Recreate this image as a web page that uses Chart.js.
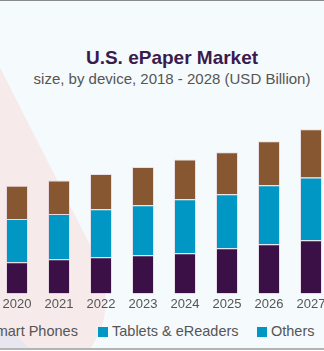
<!DOCTYPE html>
<html>
<head>
<meta charset="utf-8">
<script src="https://cdn.jsdelivr.net/npm/chart.js@4/dist/chart.umd.min.js"></script>
<style>
  html, body { margin: 0; padding: 0; }
  body { width: 324px; height: 351px; overflow: hidden; position: relative; background: #f5fafc; font-family: "Liberation Sans", Arial, sans-serif; }
  .topline { position: absolute; left: 0; top: 0; width: 324px; height: 1px; background: #8a8a8a; }
  .botline { position: absolute; left: 0; top: 348px; width: 324px; height: 2px; background: #b4b4b4; }
  .botwhite { position: absolute; left: 0; top: 350px; width: 324px; height: 1px; background: #fff; }
  #bg { position: absolute; left: 0; top: 0; }
  #title { position: absolute; left: 0; width: 344px; top: 47px; text-align: center; font-weight: bold; font-size: 19px; color: #3b1a4d; }
  #subtitle { position: absolute; left: 0; width: 344px; top: 70px; text-align: center; font-size: 15px; color: #555; }
  #wrap { position: absolute; left: -88px; top: 0; width: 462px; height: 315px; }
  .leg { position: absolute; top: 323px; font-size: 14.5px; color: #555; white-space: nowrap; line-height: 17px; }
  .leg i { display: inline-block; width: 10px; height: 10px; margin-right: 4px; vertical-align: -1px; }
</style>
</head>
<body>
<svg id="bg" width="324" height="351">
  <path d="M -20 28 L 85 235 C 112 285 112 320 88 352 L -20 352 Z" fill="#f6eaea"/>
  <path d="M -5 326 Q 20 334 32 352 L -5 352 Z" fill="#e8e7ef"/>
</svg>
<div class="topline"></div>
<div class="botline"></div>
<div class="botwhite"></div>
<div id="title">U.S. ePaper Market</div>
<div id="subtitle">size, by device, 2018 - 2028 (USD Billion)</div>
<div id="wrap"><canvas id="chart"></canvas></div>
<div id="legend"></div>
<script>
let years = ['2018', '2019', '2020', '2021', '2022', '2023', '2024', '2025', '2026', '2027', '2028'];
let smartPhones = [0.55, 0.59, 0.63, 0.69, 0.73, 0.77, 0.81, 0.91, 0.99, 1.07, 1.16];
let tablets = [0.79, 0.83, 0.87, 0.91, 0.97, 1.01, 1.09, 1.09, 1.19, 1.27, 1.37];
let others = [0.61, 0.64, 0.67, 0.68, 0.71, 0.77, 0.80, 0.85, 0.89, 0.97, 1.05];
let seriesNames = ['Smart Phones', 'Tablets & eReaders', 'Others'];
let barColors = ['#3a1047', '#0097c4', '#875731'];
let legendColors = ['#3a1047', '#0097c4', '#0097c4'];
let legendLeft = [-28, 98, 257];

// legend as plain html
let legendHtml = '';
seriesNames.forEach(function (name, i) {
    legendHtml += '<div class="leg" style="left:' + legendLeft[i] + 'px"><i style="background:' + legendColors[i] + '"></i>' + name + '</div>';
});
document.getElementById('legend').innerHTML = legendHtml;

let allValues = [smartPhones, tablets, others];
let ctx = document.getElementById('chart').getContext('2d');

new Chart(ctx, {
    type: 'bar',
    data: {
        labels: years,
        datasets: seriesNames.map(function (name, i) {
            return {
                label: name,
                data: allValues[i],
                backgroundColor: barColors[i],
                borderColor: 'rgba(220,200,215,0.55)',
                borderWidth: 1,
                barPercentage: 0.524,
                categoryPercentage: 1
            };
        })
    },
    options: {
        responsive: true,
        maintainAspectRatio: false,
        animation: false,
        layout: { padding: 0 },
        plugins: {
            legend: { display: false },
            tooltip: { enabled: false }
        },
        scales: {
            x: {
                stacked: true,
                grid: { display: false, drawTicks: false },
                border: { display: false },
                ticks: {
                    color: '#555',
                    padding: 3,
                    font: { family: 'Liberation Sans', size: 13 }
                }
            },
            y: {
                stacked: true,
                display: false,
                min: 0,
                max: 5.92
            }
        }
    }
});
</script>
</body>
</html>
